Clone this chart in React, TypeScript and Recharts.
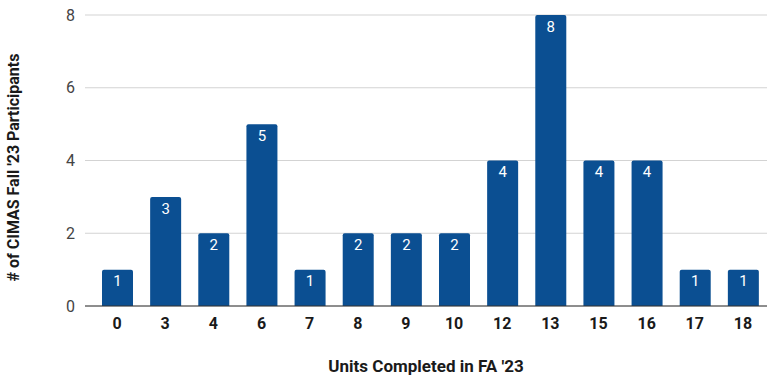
import React from "react";
import { BarChart, Bar, XAxis, YAxis, CartesianGrid, LabelList, Label } from "recharts";

const units = ["0", "3", "4", "6", "7", "8", "9", "10", "12", "13", "15", "16", "17", "18"];
const participants = [1, 3, 2, 5, 1, 2, 2, 2, 4, 8, 4, 4, 1, 1];
const yTicks = [0, 2, 4, 6, 8];

const data = units.map((u, i) => ({ unit: u, count: participants[i] }));

const FONT = "Roboto, 'Liberation Sans', Arial, sans-serif";

export default function App() {
  return (
    <div style={{ position: "absolute", left: 0, top: 0, background: "#fff" }}>
      <BarChart
        width={767}
        height={379}
        data={data}
        margin={{ top: 15, right: 0, bottom: 0, left: 0 }}
        barSize={31}
      >
        <CartesianGrid vertical={false} stroke="#d3d3d3" strokeWidth={1} />
        <XAxis
          dataKey="unit"
          height={73}
          tickSize={0}
          tickMargin={12}
          tickLine={false}
          axisLine={{ stroke: "#333", strokeWidth: 1 }}
          padding={{ left: 8, right: 0 }}
          tick={{ fill: "#1a1a1a", fontSize: 16, fontWeight: 700, fontFamily: FONT }}
          interval={0}
        >
          <Label
            content={({ viewBox }: any) => (
              <text
                x={viewBox.x + viewBox.width / 2}
                y={viewBox.y + 62}
                textAnchor="middle"
                dominantBaseline="middle"
                fill="#1a1a1a"
                fontSize={17}
                fontWeight={700}
                fontFamily={FONT}
              >
                Units Completed in FA '23
              </text>
            )}
          />
        </XAxis>
        <YAxis
          width={85}
          domain={[0, 8]}
          ticks={yTicks}
          tickSize={0}
          tickMargin={10}
          tickLine={false}
          axisLine={false}
          tick={{ fill: "#444", fontSize: 16, fontFamily: FONT }}
        >
          <Label
            content={({ viewBox }: any) => {
              const cx = 15;
              const cy = viewBox.y + viewBox.height / 2 + 7;
              return (
                <text
                  x={cx}
                  y={cy}
                  transform={`rotate(-90, ${cx}, ${cy})`}
                  textAnchor="middle"
                  dominantBaseline="middle"
                  fill="#1a1a1a"
                  fontSize={16}
                  fontWeight={700}
                  fontFamily={FONT}
                >
                  # of CIMAS Fall '23 Participants
                </text>
              );
            }}
          />
        </YAxis>
        <Bar dataKey="count" fill="#0b4f92" radius={[2, 2, 0, 0]} isAnimationActive={false}>
          <LabelList
            dataKey="count"
            position="insideTop"
            offset={6}
            fill="#ffffff"
            fontSize={15}
            fontFamily={FONT}
          />
        </Bar>
      </BarChart>
    </div>
  );
}
